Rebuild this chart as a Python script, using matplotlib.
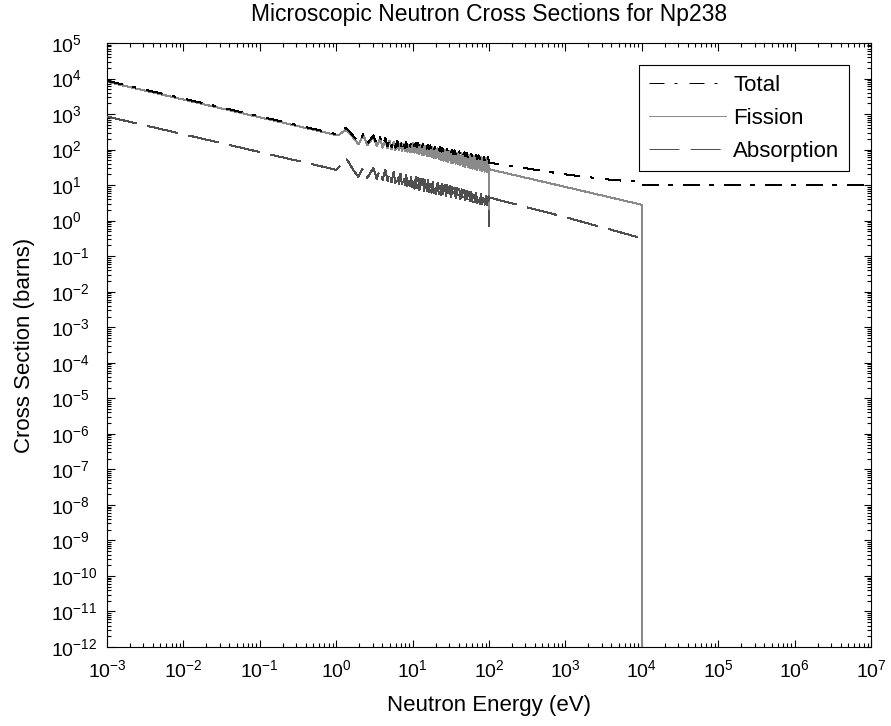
import numpy as np
import matplotlib
matplotlib.use('Agg')
import matplotlib.pyplot as plt
from matplotlib.ticker import LogLocator, NullFormatter, FixedLocator

try:
    import matplotlib._mathtext as _mt
    _mt.FontConstantsBase.subdrop = -0.25
except Exception:
    pass

plt.rcParams['font.family'] = ['Liberation Sans', 'DejaVu Sans']
plt.rcParams['mathtext.fontset'] = 'custom'
plt.rcParams['mathtext.rm'] = 'Liberation Sans'
plt.rcParams['mathtext.it'] = 'Liberation Sans:italic'
plt.rcParams['mathtext.bf'] = 'Liberation Sans:bold'
plt.rcParams['lines.scale_dashes'] = False

# ---------------- data (eV, barns) ----------------
# smooth 1/v region
e_low = [1e-3, 1e-2, 1e-1, 1.0]
total_low = [8600, 2720, 860, 272]
fission_low = [8100, 2560, 810, 256]
absorption_low = [850, 270, 85, 27]

# resolved resonance region (1 - 100 eV)
e_res = [1.10, 1.22, 1.32, 1.45, 1.65, 1.95, 2.27, 2.56, 3.06, 3.40,
         3.75, 4.05, 4.40, 4.70, 5.00, 5.30, 5.65, 5.95, 6.30, 6.60,
         6.95, 7.25, 7.60, 7.90, 8.25, 8.55, 8.90, 9.20, 9.55, 9.85,
         10.2, 10.6, 11.0, 11.4, 11.8, 12.3, 12.7, 13.2, 13.7, 14.2,
         14.7, 15.3, 15.8, 16.4, 17.0, 17.7, 18.3, 19.0, 19.7, 20.4,
         21.2, 22.0, 22.8, 23.6, 24.5, 25.4, 26.4, 27.3, 28.3, 29.4,
         30.5, 31.6, 32.8, 34.0, 35.3, 36.6, 37.9, 39.3, 40.8, 42.3,
         43.9, 45.5, 47.2, 48.9, 50.7, 52.6, 54.6, 56.6, 58.7, 60.9,
         63.1, 65.5, 67.9, 70.4, 73.0, 75.7, 78.5, 81.5, 84.5, 87.6,
         90.9, 94.2, 97.7, 99.5]
total_res = [290, 360, 400, 350, 250, 160, 280, 150, 250, 140,
             230, 130, 210, 125, 200, 118, 190, 114, 180, 110,
             172, 108, 166, 110, 162, 112, 158, 118, 154, 124,
             163, 125, 158, 121, 153, 118, 149, 114, 144, 110,
             139, 107, 135, 103, 131, 100, 126, 97, 122, 94,
             118, 91, 115, 88, 111, 85, 108, 83, 104, 80,
             101, 78, 98, 75, 95, 73, 92, 70, 89, 68,
             86, 66, 83, 64, 81, 62, 78, 60, 76, 58,
             73, 56, 71, 55, 69, 53, 67, 51, 64, 50,
             62, 48, 61, 47]
fission_res = [262, 318, 350, 310, 224, 142, 252, 133, 224, 124,
               205, 114, 186, 110, 178, 102, 167, 98, 159, 94,
               150, 92, 146, 90, 142, 87, 138, 85, 134, 83,
               150, 82, 144, 79, 140, 75, 135, 72, 131, 69,
               127, 66, 123, 64, 119, 61, 115, 58, 111, 56,
               108, 53, 104, 51, 101, 49, 98, 47, 95, 45,
               92, 43, 89, 41, 86, 40, 83, 38, 81, 36,
               78, 35, 76, 33, 73, 32, 71, 31, 69, 29,
               67, 28, 65, 27, 63, 26, 61, 25, 59, 24,
               57, 23, 55, 22]
absorption_res = [33, 48, 58, 45, 28, 17, 32, 16, 30, 15,
                  28, 14, 27, 13, 25, 12, 24, 11.5, 22, 11,
                  21, 10.5, 20, 10, 19, 9.5, 18, 9.2, 17.5, 8.8,
                  17.5, 7.9, 16.8, 7.6, 16.1, 7.3, 15.4, 7.1, 14.8, 6.8,
                  14.2, 6.6, 13.6, 6.4, 13.1, 6.1, 12.5, 5.9, 12.0, 5.7,
                  11.5, 5.5, 11.1, 5.3, 10.6, 5.1, 10.2, 4.95, 9.8, 4.8,
                  9.4, 4.6, 9.0, 4.45, 8.6, 4.3, 8.3, 4.15, 7.9, 4.0,
                  7.6, 3.85, 7.3, 3.7, 7.0, 3.6, 6.7, 3.45, 6.5, 3.35,
                  6.2, 3.25, 5.9, 3.1, 5.7, 3.0, 5.5, 2.9, 5.2, 2.8,
                  5.0, 2.7, 4.8, 2.65]

# unresolved / fast region
e_high_total = [100, 1000, 4300, 1e4, 1e4, 1e7]
total_high = [43, 20, 13.8, 12.5, 10, 10]
e_high_fission = [100, 100, 1000, 1e4, 1e4]
fission_high = [0.7, 28, 8.9, 2.8, 1e-20]
e_high_absorption = [100, 100, 1000, 1e4]
absorption_high = [0.7, 4.5, 1.25, 0.32]

e_total = e_low + e_res + e_high_total
total = total_low + total_res + total_high
e_fission = e_low + e_res + e_high_fission
fission = fission_low + fission_res + fission_high
e_absorption = e_low + e_res + e_high_absorption
absorption = absorption_low + absorption_res + absorption_high

# ---------------- figure ----------------
fig = plt.figure(figsize=(8.91, 7.26), dpi=100)
ax = fig.add_axes([107/891, 79/726, 764/891, 604/726])

lw = 0.72
l_tot, = ax.plot(e_total, total, color='black', lw=lw, zorder=4,
                 dashes=(10.8, 7.2, 2.2, 8.6), label='Total', antialiased=False)
l_fis, = ax.plot(e_fission, fission, color='#8a8a8a', lw=lw, zorder=2,
                 label='Fission', antialiased=False)
l_abs, = ax.plot(e_absorption, absorption, color='#4f4f4f', lw=lw, zorder=3,
                 dashes=(21.6, 8.0), label='Absorption', antialiased=False)

ax.set_xscale('log')
ax.set_yscale('log')
ax.set_xlim(1e-3, 1e7)
ax.set_ylim(1e-12, 1e5)

ax.xaxis.set_major_locator(FixedLocator(10.0 ** np.arange(-3, 8)))
ax.yaxis.set_major_locator(FixedLocator(10.0 ** np.arange(-12, 6)))
ax.xaxis.set_minor_locator(LogLocator(base=10, subs=np.arange(2, 10), numticks=200))
ax.yaxis.set_minor_locator(LogLocator(base=10, subs=np.arange(2, 10), numticks=200))
ax.xaxis.set_minor_formatter(NullFormatter())
ax.yaxis.set_minor_formatter(NullFormatter())

ax.tick_params(which='both', direction='in', top=True, right=True,
               width=0.8, colors='black', labelsize=14)
ax.tick_params(which='major', length=5.4)
ax.tick_params(which='minor', length=3.0)
ax.tick_params(axis='x', which='major', pad=8.5)
ax.tick_params(axis='y', which='major', pad=40)
for lab in ax.get_yticklabels():
    lab.set_horizontalalignment('left')

for s in ax.spines.values():
    s.set_linewidth(0.8)
    s.set_color('black')

ax.set_title('Microscopic Neutron Cross Sections for Np238', fontsize=16.5, pad=16)
ax.set_xlabel('Neutron Energy (eV)', fontsize=16, labelpad=10)
ax.set_ylabel('Cross Section (barns)', fontsize=16, labelpad=12)

leg = ax.legend(handles=[l_tot, l_fis, l_abs], loc='upper right',
                bbox_to_anchor=(1, 1), borderaxespad=1.0, fontsize=16,
                frameon=True, fancybox=False, framealpha=1, edgecolor='black',
                handlelength=3.5, handletextpad=0.31, labelspacing=0.55,
                borderpad=0.42)
leg.get_frame().set_linewidth(0.8)

fig.savefig('out.png', dpi=100)
